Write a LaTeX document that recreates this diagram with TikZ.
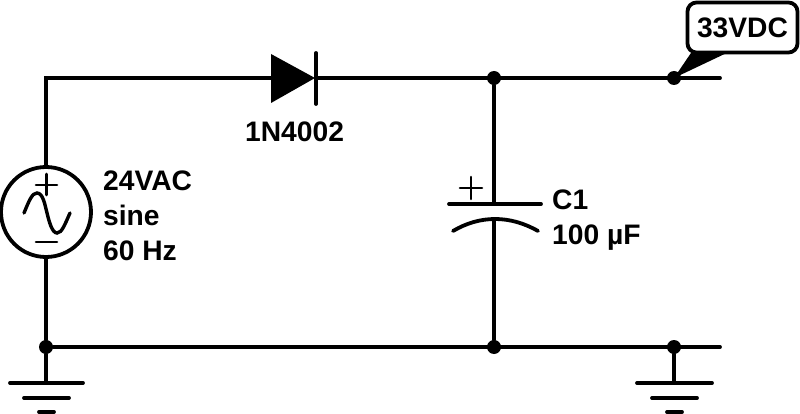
\documentclass[tikz,border=0pt]{standalone}
\usepackage{fontspec}
\setmainfont{Liberation Sans}
\tikzset{
  wire/.style={line width=3.8pt,line cap=round,black},
  sine wire/.style={line width=3.4pt,line cap=round,black},
  thin wire/.style={line width=2.6pt,line cap=round,black},
  junction/.style={circle,fill=black,inner sep=0pt,minimum size=14pt},
  lbl/.style={font=\bfseries\fontsize{28.2}{35}\selectfont,inner sep=0pt,align=left,anchor=base west},
}
\begin{document}
\begin{tikzpicture}[x=1pt,y=-1pt]
\useasboundingbox (0,0) rectangle (800,414);
% nodes
\coordinate (tl) at (46,78);
\coordinate (dA) at (271,78);
\coordinate (dK) at (316,78);
\node[junction] (jct) at (494,78) {};
\node[junction] (jout) at (674,78) {};
\coordinate (tr) at (720,78);
\node[junction] (jgl) at (46,347) {};
\node[junction] (jcb) at (494,347) {};
\node[junction] (jgr) at (674,347) {};
\coordinate (br) at (720,347);
\node[circle,draw=black,line width=3.8pt,inner sep=0pt,minimum size=90pt,outer sep=0pt] (src) at (46,212) {};
\coordinate (capT) at (494,204);
\coordinate (capB) at (494,221);
\coordinate (gl) at (46,383);
\coordinate (gr) at (674,383);
% wires
\draw[wire] (src.north) -- (tl) -- (dA);
\draw[wire] (dK) -- (tr);
\draw[wire] (jct) -- (capT);
\draw[wire] (capB) -- (jcb);
\draw[wire] (src.south) -- (jgl) -- (gl);
\draw[wire] (jgl) -- (br);
\draw[wire] (jgr) -- (gr);
% diode
\fill[black] (271,54) -- (315,78) -- (271,103) -- cycle;
\draw[wire] (316,53) -- (316,104);
\node[lbl] (dlab) at (245,142) {1N4002};
% source symbol
\draw[sine wire] (24,213) .. controls (29,201) and (32,193) .. (37,193) .. controls (43,193) and (45,205) .. (47,213) .. controls (49,221) and (52,233) .. (57,233) .. controls (62,233) and (65,224) .. (70,213);
\draw[thin wire] (36,185) -- (57,185) (46.5,174) -- (46.5,195);
\draw[thin wire] (36,242) -- (57,242);
\node[lbl] (slab) at (103,260) {24VAC\\sine\\60 Hz};
% capacitor
\draw[wire] (449,204) -- (541,204);
\draw[wire] (453,231) .. controls (480,215) and (510,215) .. (538,231);
\draw[thin wire] (460,188) -- (482,188) (471,177) -- (471,199);
\node[lbl] (clab) at (552,244) {C1\\100 µF};
% grounds
\draw[wire] (10,383) -- (83,383);
\draw[wire] (24,398) -- (69,398);
\draw[wire] (39,412) -- (54,412);
\draw[wire] (637,383) -- (712,383);
\draw[wire] (652,398) -- (697,398);
\draw[wire] (667,412) -- (682,412);
% voltage tag
\fill[black] (693,50) -- (jout.center) -- (733,50) -- cycle;
\node[draw=black,fill=white,line width=3.8pt,rounded corners=9pt,minimum width=110pt,minimum height=50pt,inner sep=0pt,font=\bfseries\fontsize{28.2}{35}\selectfont] (tag) at (742.5,27.5) {33VDC};
\end{tikzpicture}
\end{document}
